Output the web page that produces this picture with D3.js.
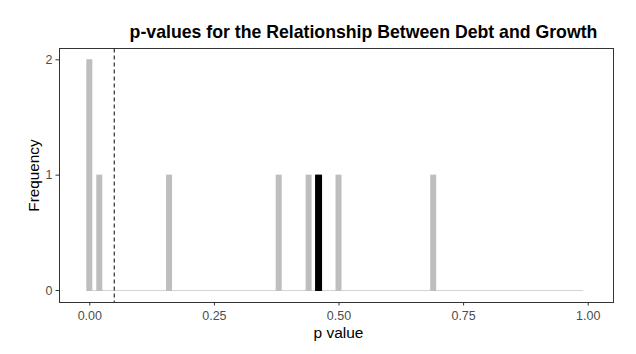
<!DOCTYPE html>
<html>
<head>
<meta charset="utf-8">
<script src="https://cdn.jsdelivr.net/npm/d3@7"></script>
<style>
  body { margin: 0; background: #fff; }
  text { font-family: "Liberation Sans", Arial, sans-serif; }
</style>
</head>
<body>
<div id="chart"></div>
<script>
'use strict';

// p-values from the debt / growth specifications
var pValues = [0.00, 0.00, 0.02, 0.16, 0.38, 0.44, 0.46, 0.50, 0.69];
var highlightValue = 0.46;
var cutoff = 0.05;
var xTicks = [0, 0.25, 0.5, 0.75, 1];
var yTicks = [0, 1, 2];

var width = 636, height = 354;
var binWidth = 0.01;

var svg = d3.select('#chart').append('svg')
    .attr('width', width)
    .attr('height', height);

var x = d3.scaleLinear().domain([0, 1]).range([89.3, 587.7]);
var y = d3.scaleLinear().domain([0, 2]).range([290, 59.3]);

var panel = { left: 59.5, right: 613.5, top: 48.5, bottom: 302.5 };

var edges = d3.range(101).map(function(i) { return -binWidth / 2 + i * binWidth; });
var bins = d3.bin()
    .domain([edges[0], edges[edges.length - 1]])
    .thresholds(edges.slice(1, -1))(pValues);

// baseline left by the empty bins
svg.append('line')
    .attr('x1', x(bins[0].x0) - 0.5)
    .attr('x2', x(bins[bins.length - 1].x1) - 2)
    .attr('y1', y(0) + 0.5).attr('y2', y(0) + 0.5)
    .style('stroke', '#d3d3d3')
    .style('stroke-width', 1);

// gray histogram
svg.selectAll('rect.bin')
    .data(bins.filter(function(b) { return b.length > 0; }))
    .enter().append('rect')
    .attr('class', 'bin')
    .attr('x', function(d) { return x(d.x0) - 0.5; })
    .attr('width', function(d) { return x(d.x1) - x(d.x0) + 1; })
    .attr('y', function(d) { return y(d.length); })
    .attr('height', function(d) { return y(0) - y(d.length) + 1; })
    .style('fill', '#bebebe');

// highlighted bin in black
var hl = bins.filter(function(b) { return highlightValue >= b.x0 && highlightValue < b.x1; });
svg.selectAll('rect.hl')
    .data(hl)
    .enter().append('rect')
    .attr('class', 'hl')
    .attr('x', function(d) { return x(d.x0) - 1; })
    .attr('width', function(d) { return x(d.x1) - x(d.x0) + 2; })
    .attr('y', function(d) { return y(d.length); })
    .attr('height', function(d) { return y(0) - y(d.length) + 1; })
    .style('fill', '#000');

// significance cutoff
svg.append('line')
    .attr('x1', x(cutoff)).attr('x2', x(cutoff))
    .attr('y1', panel.top).attr('y2', panel.bottom)
    .style('stroke', '#000')
    .style('stroke-width', 1)
    .style('stroke-dasharray', '4,3');

// panel border
svg.append('rect')
    .attr('x', panel.left).attr('y', panel.top)
    .attr('width', panel.right - panel.left)
    .attr('height', panel.bottom - panel.top)
    .style('fill', 'none')
    .style('stroke', '#333')
    .style('stroke-width', 1);

var xAxis = svg.append('g')
    .attr('transform', 'translate(0,' + panel.bottom + ')')
    .call(d3.axisBottom(x).tickValues(xTicks).tickFormat(d3.format('.2f')).tickSize(3).tickPadding(5.5));
var yAxis = svg.append('g')
    .attr('transform', 'translate(' + panel.left + ',0)')
    .call(d3.axisLeft(y).tickValues(yTicks).tickFormat(d3.format('d')).tickSize(4).tickPadding(3));

[xAxis, yAxis].forEach(function(a) {
    a.select('.domain').remove();
    a.selectAll('.tick line').style('stroke', '#333');
    a.selectAll('.tick text')
        .style('fill', '#4d4d4d')
        .style('font-size', '12.5px')
        .style('font-family', '"Liberation Sans", Arial, sans-serif');
});

svg.append('text')
    .attr('x', 363.5).attr('y', 38)
    .attr('text-anchor', 'middle')
    .style('font-size', '17.7px')
    .style('font-weight', 'bold')
    .style('fill', '#000')
    .text('p-values for the Relationship Between Debt and Growth');

svg.append('text')
    .attr('x', x(0.5)).attr('y', 338)
    .attr('text-anchor', 'middle')
    .style('font-size', '15.5px')
    .style('fill', '#000')
    .text('p value');

svg.append('text')
    .attr('transform', 'translate(38.5,' + ((panel.top + panel.bottom) / 2) + ') rotate(-90)')
    .attr('text-anchor', 'middle')
    .style('font-size', '15.3px')
    .style('fill', '#000')
    .text('Frequency');
</script>
</body>
</html>
